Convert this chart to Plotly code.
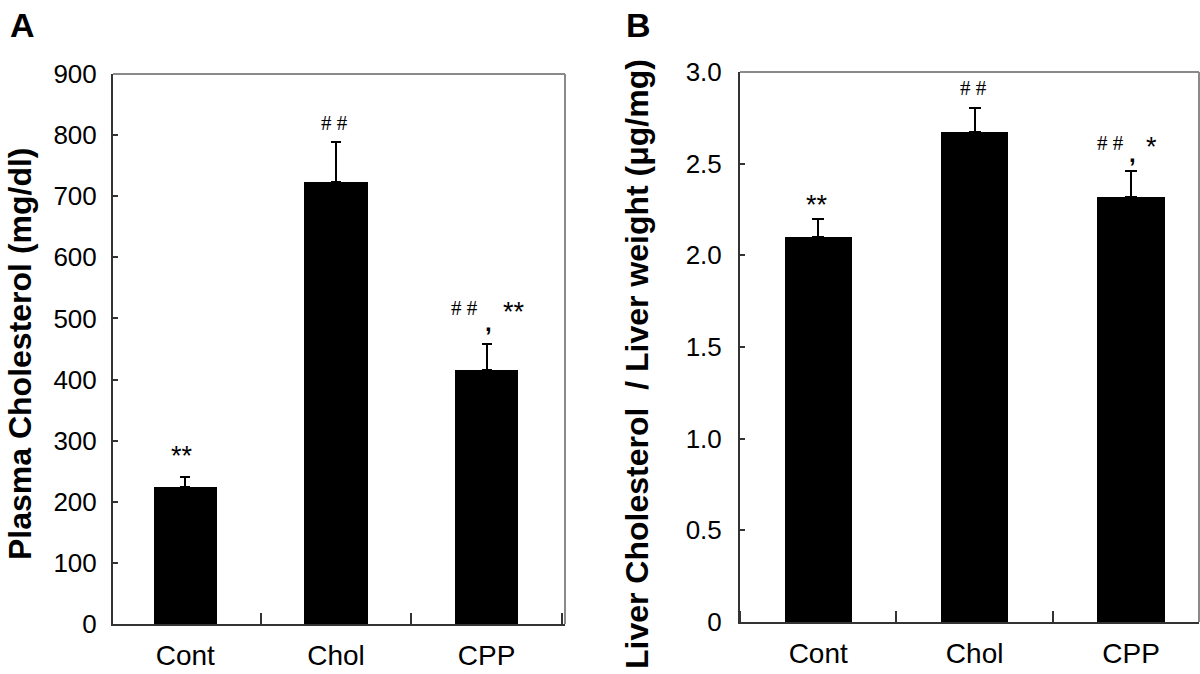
import plotly.graph_objects as go

# ---- data ----
groups = ["Cont", "Chol", "CPP"]
plasma_chol = [224, 723, 415]          # mg/dl
plasma_err = [17, 66, 44]
liver_chol = [2.10, 2.673, 2.32]       # ug/mg
liver_err = [0.10, 0.13, 0.14]

plasma_ticks = [0, 100, 200, 300, 400, 500, 600, 700, 800, 900]
liver_ticks = [0, 0.5, 1.0, 1.5, 2.0, 2.5, 3.0]
liver_ticktext = ["0", "0.5", "1.0", "1.5", "2.0", "2.5", "3.0"]

xpos = list(range(len(groups)))

fig = go.Figure()

fig.add_trace(go.Bar(
    x=xpos, y=plasma_chol, width=0.42, marker=dict(color="black", line=dict(width=0)),
    error_y=dict(type="data", symmetric=False, array=plasma_err, arrayminus=[0]*3,
                 color="black", thickness=2, width=5),
    xaxis="x", yaxis="y", showlegend=False))

fig.add_trace(go.Bar(
    x=xpos, y=liver_chol, width=0.43, marker=dict(color="black", line=dict(width=0)),
    error_y=dict(type="data", symmetric=False, array=liver_err, arrayminus=[0]*3,
                 color="black", thickness=2, width=6),
    xaxis="x2", yaxis="y2", showlegend=False))

tickfont = dict(family="Liberation Sans, Arial", size=26, color="black")
catfont = dict(family="Liberation Sans, Arial", size=28, color="black")
axcol = "#333333"

common_x = dict(
    tickmode="array", tickvals=xpos, ticktext=groups, ticks="", tickfont=catfont,
    showline=True, linecolor=axcol, linewidth=2, showgrid=False, zeroline=False,
    ticklabelstandoff=5, automargin=False,
    minor=dict(tickmode="linear", tick0=0.5, dtick=1, ticks="inside", ticklen=11,
               tickwidth=1.5, tickcolor=axcol, showgrid=False),
)

fig.update_layout(
    width=1200, height=674,
    margin=dict(l=0, r=0, t=0, b=0, autoexpand=False),
    paper_bgcolor="white", plot_bgcolor="white",
    bargap=0,
    xaxis=dict(domain=[113/1200, 565/1200], range=[-0.48, 2.52], anchor="y", **common_x),
    yaxis=dict(domain=[50/674, 600/674], range=[0, 900], anchor="x", automargin=False,
               tickmode="array", tickvals=plasma_ticks, ticks="inside", ticklen=5,
               tickwidth=1.5, tickcolor=axcol, tickfont=tickfont, ticklabelstandoff=9,
               showline=True, linecolor=axcol, linewidth=2, showgrid=False, zeroline=False),
    xaxis2=dict(domain=[740/1200, 1199/1200], range=[-0.5, 2.434], anchor="y2", **common_x),
    yaxis2=dict(domain=[52/674, 602/674], range=[0, 3.0], anchor="x2", automargin=False,
                tickmode="array", tickvals=liver_ticks, ticktext=liver_ticktext,
                ticks="inside", ticklen=5, tickwidth=1.5, tickcolor=axcol,
                tickfont=tickfont, ticklabelstandoff=11,
                showline=True, linecolor=axcol, linewidth=2, showgrid=False, zeroline=False),
)

# frame top / right borders (lighter gray)
for xr, yr in (("x", "y"), ("x2", "y2")):
    fig.add_shape(type="line", xref=f"{xr} domain", yref=f"{yr} domain",
                  x0=0, x1=1, y0=1, y1=1, line=dict(color="#8a8a8a", width=2))
    fig.add_shape(type="line", xref=f"{xr} domain", yref=f"{yr} domain",
                  x0=1, x1=1, y0=0, y1=1, line=dict(color="#8a8a8a", width=2))

hashfont = dict(family="Liberation Serif, serif", size=21, color="black")
starfont = dict(family="Liberation Sans, Arial", size=27, color="black")
commafont = dict(family="Liberation Sans, Arial", size=24, color="black", weight="bold")

anns = [
    # panel A
    dict(x=-0.02, y=275, xref="x", yref="y", text="**", font=starfont),
    dict(x=0.99, y=820, xref="x", yref="y", text="# #", font=hashfont),
    dict(x=1.85, y=517, xref="x", yref="y", text="# #", font=hashfont),
    dict(x=2.18, y=510, xref="x", yref="y", text="**", font=starfont),
    dict(x=2.01, y=494, xref="x", yref="y", text=",", font=commafont),
    # panel B
    dict(x=-0.01, y=2.275, xref="x2", yref="y2", text="**", font=starfont),
    dict(x=0.99, y=2.913, xref="x2", yref="y2", text="# #", font=hashfont),
    dict(x=1.87, y=2.613, xref="x2", yref="y2", text="# #", font=hashfont),
    dict(x=2.13, y=2.59, xref="x2", yref="y2", text="*", font=starfont),
    dict(x=2.01, y=2.555, xref="x2", yref="y2", text=",", font=commafont),
]
for a in anns:
    fig.add_annotation(showarrow=False, xanchor="center", yanchor="middle", **a)

# axis titles & panel letters
titlefont = dict(family="Liberation Sans, Arial", size=32, color="black", weight="bold")
fig.add_annotation(x=20/1200, y=1 - 354/674, xref="paper", yref="paper", showarrow=False,
                   text="Plasma Cholesterol (mg/dl)", textangle=-90, font=titlefont,
                   xanchor="center", yanchor="middle")
fig.add_annotation(x=637/1200, y=1 - 364/674, xref="paper", yref="paper", showarrow=False,
                   text="Liver Cholesterol  / Liver weight (μg/mg)", textangle=-90, font=titlefont,
                   xanchor="center", yanchor="middle")
letterfont = dict(family="Liberation Sans, Arial", size=34, color="black", weight="bold")
fig.add_annotation(x=22/1200, y=1 - 25/674, xref="paper", yref="paper", showarrow=False,
                   text="A", font=letterfont, xanchor="center", yanchor="middle")
fig.add_annotation(x=638/1200, y=1 - 25/674, xref="paper", yref="paper", showarrow=False,
                   text="B", font=letterfont, xanchor="center", yanchor="middle")

fig.write_html(
    "out.html",
    config={"displayModeBar": False},
    post_script="document.body.style.margin='0px';document.body.style.overflow='hidden';",
)
